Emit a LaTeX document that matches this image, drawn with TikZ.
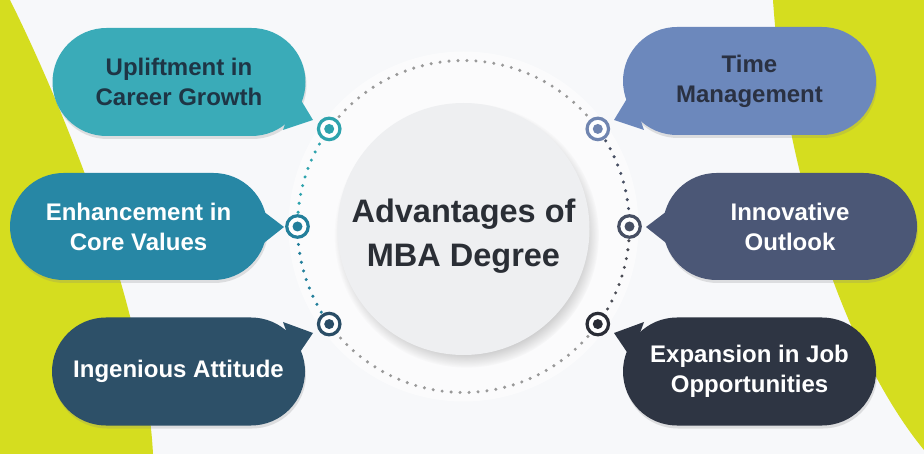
\documentclass[tikz,border=0pt]{standalone}
\usepackage{fontspec}
\setmainfont{Liberation Sans}
\usetikzlibrary{shapes.misc,shadows,fadings}
\definecolor{limec}{HTML}{D5DD1F}
\definecolor{bgc}{HTML}{F7F8FA}
\definecolor{cA}{HTML}{3AABB8}
\definecolor{cB}{HTML}{2787A5}
\definecolor{cC}{HTML}{2D5068}
\definecolor{cD}{HTML}{6C88BC}
\definecolor{cE}{HTML}{4B5776}
\definecolor{cF}{HTML}{2E3543}
\definecolor{mA}{HTML}{2EA3AD}
\definecolor{mB}{HTML}{237F9B}
\definecolor{mC}{HTML}{2A4D66}
\definecolor{mD}{HTML}{7085B0}
\definecolor{mE}{HTML}{474F63}
\definecolor{mF}{HTML}{2A2D36}
\definecolor{darktxt}{HTML}{1E3545}
\definecolor{darktxtB}{HTML}{2A3142}
\definecolor{centertxt}{HTML}{2A2E35}
\definecolor{circfill}{HTML}{EEEFF1}
\begin{document}
\begin{tikzpicture}[x=1pt,y=-1pt,
  bubble/.style={rounded rectangle, fill=#1, inner sep=0pt, align=center,
    font=\fontsize{24}{30}\selectfont\bfseries,
    drop shadow={shadow xshift=1pt, shadow yshift=-3pt, opacity=0.22}},
  bubbleL/.style={bubble=#1, minimum width=253pt, minimum height=108pt},
  marker/.style={circle, draw=#1, line width=3.2pt, fill=white, minimum size=21.5pt, inner sep=0pt,
    path picture={\fill[#1] (path picture bounding box.center) circle (5pt);}},
  dotring/.style={line width=3.4pt, line cap=round, dash pattern=on 0pt off 9pt}
]
\useasboundingbox (0,0) rectangle (924,454);
\fill[bgc] (0,0) rectangle (924,454);
% lime shapes
\fill[limec] (0,0) -- (10,0) .. controls (55,90) and (145,300) .. (153,454) -- (0,454) -- cycle;
\fill[limec] (773,0) -- (924,0) -- (924,450) .. controls (850,360) and (785,180) .. (773,0) -- cycle;
% soft halo
\fill[white, opacity=0.5] (463.5,226.5) circle (175);

% center circle
\node[circle, fill=circfill, minimum size=252pt, inner sep=0pt,
  circular drop shadow={shadow xshift=3pt, shadow yshift=-6pt, shadow scale=1.05, opacity=0.45, fill=black!55},
  text=centertxt, align=center, font=\fontsize{32.5}{44}\selectfont\bfseries]
  (hub) at (463.5,229) {};
\node[text=centertxt, align=center, font=\fontsize{32.5}{44}\selectfont\bfseries] (hubtext) at (463.5,236) {Advantages of\\MBA Degree};

% dotted ring and markers
\begin{scope}[shift={(463.5,226.5)}, y=1pt]
  \draw[dotring, mA] (144:166) arc[start angle=144, end angle=180, radius=166];
  \draw[dotring, mB] (180:166) arc[start angle=180, end angle=216, radius=166];
  \draw[dotring, black!40] (36:166) arc[start angle=36, end angle=144, radius=166];
  \draw[dotring, black!40] (216:166) arc[start angle=216, end angle=324, radius=166];
  \draw[dotring, mE] (0:166) arc[start angle=0, end angle=36, radius=166];
  \draw[dotring, mF!85] (-36:166) arc[start angle=-36, end angle=0, radius=166];
  \node[marker=mA] (m1) at (144:166) {};
  \node[marker=mB] (m2) at (180:166) {};
  \node[marker=mC] (m3) at (216:166) {};
  \node[marker=mD] (m4) at (36:166) {};
  \node[marker=mE] (m5) at (0:166) {};
  \node[marker=mF] (m6) at (-36:166) {};
\end{scope}

% bubbles
\node[bubbleL=cA, text=darktxt] (b1) at (179,82) {Upliftment in\\Career Growth};
\fill[cA] (296,92) -- (313,120) coordinate (t1) -- (283,130) -- cycle;

\node[bubble=cB, minimum width=257pt, minimum height=107pt, text=white] (b2) at (138.5,226.5) {Enhancement in\\Core Values};
\fill[cB] (255,205) -- (284,227) coordinate (t2) -- (255,250) -- cycle;

\node[bubbleL=cC, text=white] (b3) at (178.5,371.5) {Ingenious Attitude};
\fill[cC] (283,322) -- (313,333) coordinate (t3) -- (296,358) -- cycle;

\node[bubbleL=cD, text=darktxtB] (b4) at (749.5,81) {Time\\Management};
\fill[cD] (631,92) -- (614,120) coordinate (t4) -- (644,130) -- cycle;

\node[bubble=cE, minimum width=254pt, minimum height=107pt, text=white] (b5) at (790,226.5) {Innovative\\Outlook};
\fill[cE] (675,205) -- (646,227) coordinate (t5) -- (675,250) -- cycle;

\node[bubbleL=cF, text=white] (b6) at (749.5,371.5) {Expansion in Job\\Opportunities};
\fill[cF] (644,322) -- (614,333) coordinate (t6) -- (631,358) -- cycle;
\end{tikzpicture}
\end{document}
